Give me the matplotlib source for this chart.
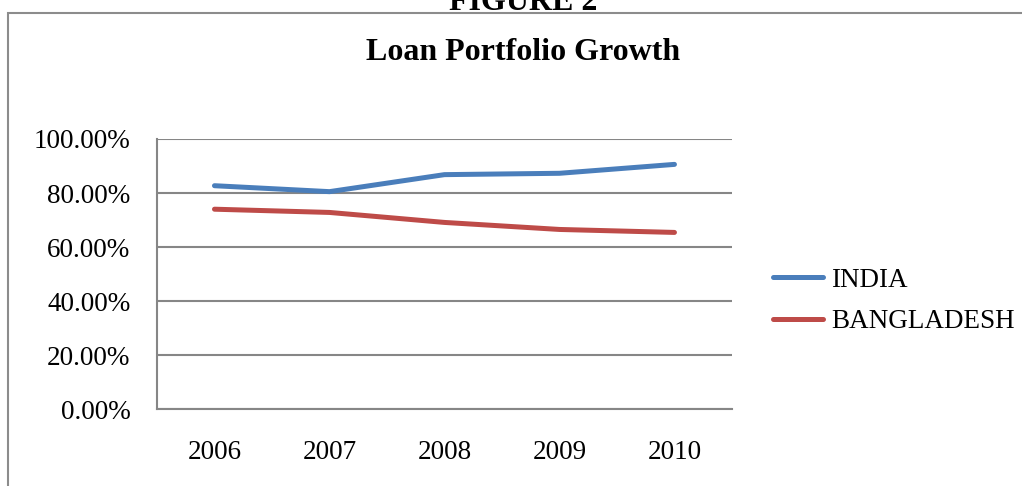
import matplotlib.pyplot as plt
from matplotlib.patches import Rectangle
from matplotlib.ticker import PercentFormatter

years = ["2006", "2007", "2008", "2009", "2010"]
india = [82.7, 80.5, 86.8, 87.3, 90.6]
bangladesh = [74.0, 72.8, 69.1, 66.5, 65.4]
y_ticks = [0, 20, 40, 60, 80, 100]

plt.rcParams["font.family"] = ["Liberation Serif", "DejaVu Serif"]

fig = plt.figure(figsize=(10.22, 4.86), dpi=100)
ax = fig.add_axes([0.1536, 0.1584, 0.5626, 0.5556])

# 外框
fig.patches.append(Rectangle((0.0078, -0.05), 1.2, 0.973 + 0.05, transform=fig.transFigure,
                             fill=False, edgecolor="#8c8c8c", linewidth=1.5))

x = range(len(years))
ax.plot(x, india, color="#4A7EBB", linewidth=3.6, solid_capstyle="round", label="INDIA")
ax.plot(x, bangladesh, color="#BE4B48", linewidth=3.6, solid_capstyle="round", label="BANGLADESH")

ax.set_xlim(-0.5, len(years) - 0.5)
ax.set_ylim(0, 100)
ax.set_xticks(list(x))
ax.set_xticklabels(years)
ax.set_yticks(y_ticks)
ax.yaxis.set_major_formatter(PercentFormatter(decimals=2))
ax.tick_params(length=0, labelsize=19.5)
ax.tick_params(axis="x", pad=22)
ax.tick_params(axis="y", pad=19)

ax.grid(axis="y", color="#868686", linewidth=1.5)
ax.set_axisbelow(True)
for s in ["top", "right"]:
    ax.spines[s].set_visible(False)
for s in ["left", "bottom"]:
    ax.spines[s].set_color("#868686")
    ax.spines[s].set_linewidth(1.5)

ax.legend(loc="center left", bbox_to_anchor=(1.071, 0.4), frameon=False, fontsize=19.5,
          handlelength=1.85, handletextpad=0.3, labelspacing=0.6, borderaxespad=0,
          borderpad=0)

fig.text(0.512, 0.893, "Loan Portfolio Growth", ha="center", va="center",
         fontsize=23, fontweight="bold")
fig.text(0.512, 0.979, "FIGURE 2", ha="center", va="baseline", fontsize=23, fontweight="bold")

fig.savefig("out.png", dpi=100)
